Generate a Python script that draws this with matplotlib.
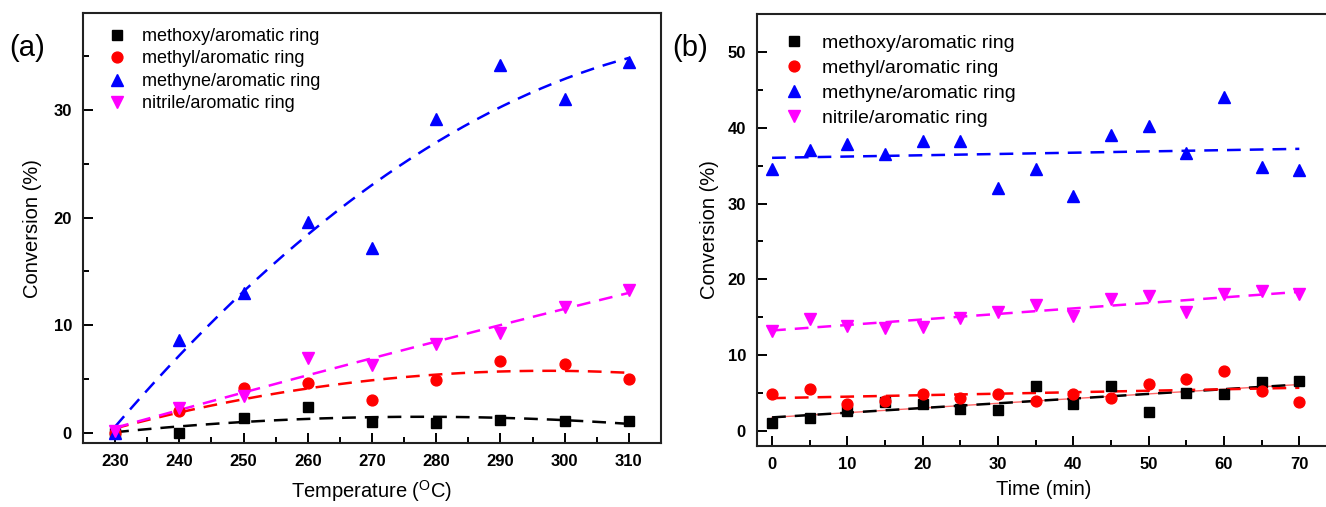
import matplotlib

matplotlib.use("Agg")
import matplotlib.pyplot as plt
import numpy as np
from matplotlib.ticker import MultipleLocator

plt.rcParams["font.family"] = ["Liberation Sans", "DejaVu Sans"]
plt.rcParams["mathtext.fontset"] = "custom"
plt.rcParams["mathtext.rm"] = "Liberation Sans"

# (a) conversion vs temperature
temperature = [230, 240, 250, 260, 270, 280, 290, 300, 310]
a_methoxy = [0.0, 0.0, 1.4, 2.4, 1.0, 0.9, 1.2, 1.1, 1.1]
a_methyl = [0.0, 2.0, 4.1, 4.6, 3.0, 4.9, 6.7, 6.4, 5.0]
a_methyne = [0.0, 8.6, 13.0, 19.6, 17.2, 29.2, 34.2, 31.0, 34.5]
a_nitrile = [0.1, 2.3, 3.4, 6.9, 6.3, 8.2, 9.3, 11.7, 13.3]

# (b) conversion vs time
time_min = [0, 5, 10, 15, 20, 25, 30, 35, 40, 45, 50, 55, 60, 65, 70]
b_methoxy = [1.1, 1.7, 2.6, 3.8, 3.5, 2.9, 2.8, 5.9, 3.6, 5.9, 2.5, 5.0, 4.9, 6.4, 6.6]
b_methyl = [4.9, 5.5, 3.6, 4.0, 4.8, 4.3, 4.9, 4.0, 4.8, 4.3, 6.2, 6.8, 7.9, 5.2, 3.8]
b_methyne = [34.5, 37.1, 37.8, 36.5, 38.3, 38.2, 32.1, 34.6, 31.0, 39.1, 40.2, 36.7, 44.0, 34.8, 34.4]
b_nitrile = [13.2, 14.8, 13.8, 13.6, 13.7, 14.9, 15.7, 16.6, 15.2, 17.4, 17.8, 15.7, 18.0, 18.5, 18.0]

labels = ["methoxy/aromatic ring", "methyl/aromatic ring",
          "methyne/aromatic ring", "nitrile/aromatic ring"]
colors = ["#000000", "#ff0000", "#0000ff", "#ff00ff"]
markers = ["s", "o", "^", "v"]
msizes = [7.0, 7.8, 8.6, 8.6]


def style_axes(ax):
    for spine in ax.spines.values():
        spine.set_linewidth(1.5)
        spine.set_color("#222222")
    ax.tick_params(which="both", direction="in", top=False, right=False, width=1.4,
                   labelsize=12, pad=8)
    ax.tick_params(which="major", length=7)
    ax.tick_params(which="minor", length=4)
    for lab in ax.get_xticklabels() + ax.get_yticklabels():
        lab.set_fontweight("bold")


def draw_panel(ax, x, series, degree):
    x = np.asarray(x, dtype=float)
    xf = np.linspace(x.min(), x.max(), 200)
    for y, c, m, ms, lab in zip(series, colors, markers, msizes, labels):
        ax.plot(x, y, linestyle="none", marker=m, color=c, markersize=ms, label=lab, zorder=3)
        coef = np.polyfit(x, np.asarray(y, dtype=float), degree)
        ax.plot(xf, np.polyval(coef, xf), color=c, linewidth=1.8, dashes=(5.5, 3.6), zorder=2)


fig = plt.figure(figsize=(13.26, 5.07), dpi=100)

ax1 = fig.add_axes([0.0626, 0.1256, 0.4359, 0.8482])
draw_panel(ax1, temperature, [a_methoxy, a_methyl, a_methyne, a_nitrile], 2)
ax1.set_xlim(225, 315)
ax1.set_ylim(-1, 39)
ax1.xaxis.set_major_locator(MultipleLocator(10))
ax1.xaxis.set_minor_locator(MultipleLocator(5))
ax1.yaxis.set_major_locator(MultipleLocator(10))
ax1.yaxis.set_minor_locator(MultipleLocator(5))
ax1.set_xlabel(r"Temperature ($\mathregular{^{O}}$C)", fontsize=14.5, labelpad=6)
ax1.set_ylabel("Conversion (%)", fontsize=14.5, labelpad=8)
style_axes(ax1)
ax1.legend(loc="upper left", bbox_to_anchor=(0.017, 0.995), frameon=False, fontsize=13,
           handletextpad=0.75, labelspacing=0.3, borderaxespad=0.3, handlelength=1.3)
fig.text(0.007, 0.905, "(a)", fontsize=21, ha="left", va="center")

ax2 = fig.add_axes([0.5709, 0.1203, 0.4317, 0.852])
draw_panel(ax2, time_min, [b_methoxy, b_methyl, b_methyne, b_nitrile], 1)
# thin solid companion line under the methoxy fit
tx = np.asarray(time_min, dtype=float)
coef_b = np.polyfit(tx, np.asarray(b_methoxy, dtype=float), 1)
ax2.plot(tx, np.polyval(coef_b, tx), color="#ff6666", linewidth=1.0, zorder=1.5)
ax2.set_xlim(-2, 74)
ax2.set_ylim(-2, 55)
ax2.xaxis.set_major_locator(MultipleLocator(10))
ax2.xaxis.set_minor_locator(MultipleLocator(5))
ax2.yaxis.set_major_locator(MultipleLocator(10))
ax2.yaxis.set_minor_locator(MultipleLocator(5))
ax2.set_xlabel("Time (min)", fontsize=14.5, labelpad=6)
ax2.set_ylabel("Conversion (%)", fontsize=14.5, labelpad=6)
style_axes(ax2)
ax2.legend(loc="upper left", bbox_to_anchor=(0.018, 0.985), frameon=False, fontsize=14,
           handletextpad=0.8, labelspacing=0.38, borderaxespad=0.3, handlelength=1.3)
fig.text(0.507, 0.905, "(b)", fontsize=21, ha="left", va="center")

fig.savefig("out.png", dpi=100)
